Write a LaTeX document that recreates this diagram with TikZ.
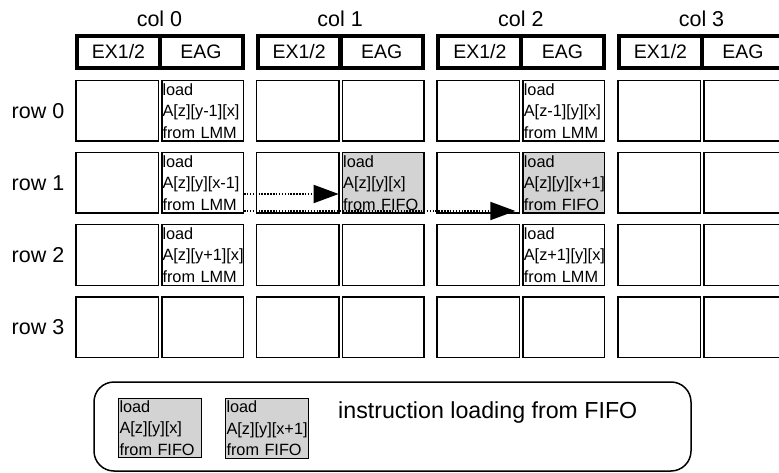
\documentclass[tikz,border=0pt]{standalone}
\usepackage{fontspec}
\setmainfont{Liberation Sans}
\usetikzlibrary{arrows.meta}
\definecolor{fifogray}{RGB}{211,211,211}
\begin{document}
\begin{tikzpicture}[x=1pt,y=1pt,
  big/.style={font=\fontsize{21.5}{25}\selectfont, inner sep=0pt},
  headbox/.style={draw, line width=4pt, minimum width=83pt, minimum height=32pt,
    inner sep=0pt, font=\fontsize{19.5}{23}\selectfont},
  cellbox/.style={draw, line width=1.5pt, minimum height=60.5pt, inner sep=0pt},
  excell/.style={cellbox, minimum width=82.5pt},
  eagcell/.style={cellbox, minimum width=81.5pt, text width=80pt, align=left,
    inner xsep=0.75pt, font=\fontsize{16.3}{21.5}\selectfont},
  fifocell/.style={eagcell, fill=fifogray},
  flow/.style={line width=1.9pt, dash pattern=on 1.5pt off 1.4pt,
    -{Triangle[length=25pt,width=18pt]}}
]
\useasboundingbox (0,0) rectangle (779,-473);

% column headers and the 4x4 grid of EX1/2 | EAG cells
\foreach \c in {0,1,2,3}{
  \pgfmathsetmacro{\X}{75+180.67*\c}
  \node[big] (col\c) at (\X+84.5,-19) {col \c};
  \node[headbox] (h\c x) at (\X+43.5,-52) {EX1/2};
  \node[headbox] (h\c e) at (\X+126,-52) {EAG};
  \foreach \r in {0,1,2,3}{
    \node[excell] (c\c r\r x) at (\X+42,-111-72*\r) {};
  }
}
\foreach \r in {0,1,2,3}{
  \node[big] (row\r) at (38,-111-72*\r) {row \r};
}

% EAG cells (col 0..3), with the load instructions
\foreach \c/\r/\t in {
  0/0/{load\\A[z][y-1][x]\\from LMM},
  0/1/{load\\A[z][y][x-1]\\from LMM},
  0/2/{load\\A[z][y+1][x]\\from LMM},
  0/3/{},
  1/0/{}, 1/2/{}, 1/3/{},
  2/0/{load\\A[z-1][y][x]\\from LMM},
  2/2/{load\\A[z+1][y][x]\\from LMM},
  2/3/{},
  3/0/{}, 3/1/{}, 3/2/{}, 3/3/{}}{
  \pgfmathsetmacro{\X}{75+180.67*\c}
  \node[eagcell] (c\c r\r e) at (\X+127.5,-111-72*\r) {\t};
}
\node[fifocell] (c1r1e) at (75+180.67+127.5,-183) {load\\A[z][y][x]\\from FIFO};
\node[fifocell] (c2r1e) at (75+361.34+127.5,-183) {load\\A[z][y][x+1]\\from FIFO};

% forwarding through the FIFO
\draw[flow, shorten >=3pt] ([yshift=-11pt]c0r1e.east) -- ([yshift=-11pt]c1r1e.west);
\draw[flow, shorten >=7pt] ([yshift=-28pt]c0r1e.east) -- ([yshift=-28pt]c2r1e.west);

% legend
\node[draw, line width=1.5pt, rounded corners=20pt, minimum width=597pt,
  minimum height=89pt, inner sep=0pt] (legend) at (392.5,-426.5) {};
\node[fifocell, minimum width=83pt, minimum height=59pt, text width=81pt]
  (leg1) at (160,-428) {load\\A[z][y][x]\\from FIFO};
\node[fifocell, minimum width=83pt, minimum height=60pt, text width=81pt]
  (leg2) at (267,-428.5) {load\\A[z][y][x+1]\\from FIFO};
\node[big, anchor=west, font=\fontsize{23.2}{27}\selectfont] (legtext) at (338,-412)
  {instruction loading from FIFO};
\end{tikzpicture}
\end{document}
